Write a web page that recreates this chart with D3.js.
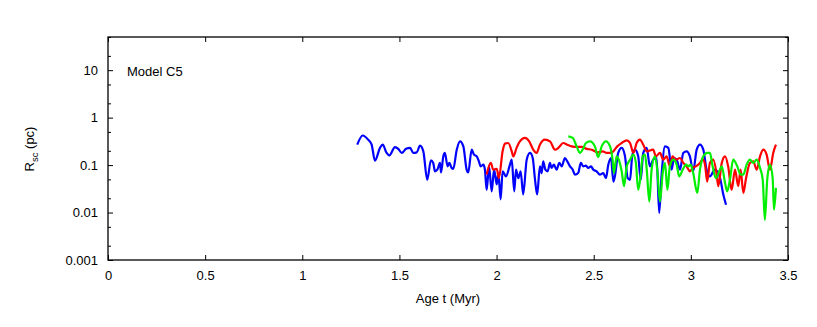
<!DOCTYPE html>
<html><head><meta charset="utf-8">
<script src="https://cdn.jsdelivr.net/npm/d3@7"></script>
<style>body{margin:0;background:#fff}svg{display:block}text{font-family:"Liberation Sans",Arial,sans-serif;fill:#000}</style>
</head><body><svg id="c" width="817" height="327"></svg>
<script>
const xTicks = [0, 0.5, 1, 1.5, 2, 2.5, 3, 3.5];
const xTickLabels = ["0", "0.5", "1", "1.5", "2", "2.5", "3", "3.5"];
const yTicks = [0.001, 0.01, 0.1, 1, 10];
const yTickLabels = ["0.001", "0.01", "0.1", "1", "10"];
const yMinorTicks = [0.002, 0.005, 0.02, 0.05, 0.2, 0.5, 2, 5, 20, 50];

const blueT = [1.283,1.311,1.340,1.357,1.374,1.400,1.414,1.434,1.448,1.477,1.494,1.512,1.534,1.555,1.571,1.589,1.606,1.623,1.643,1.662,1.674,1.683,1.695,1.709,1.714,1.726,1.734,1.748,1.757,1.769,1.777,1.795,1.812,1.829,1.846,1.854,1.872,1.884,1.898,1.909,1.918,1.932,1.940,1.949,1.961,1.975,1.987,2.001,2.009,2.021,2.031,2.048,2.069,2.078,2.091,2.100,2.112,2.124,2.137,2.155,2.172,2.186,2.198,2.209,2.223,2.232,2.240,2.251,2.263,2.275,2.283,2.295,2.309,2.323,2.335,2.352,2.364,2.378,2.392,2.403,2.420,2.434,2.446,2.460,2.472,2.486,2.498,2.515,2.532,2.549,2.563,2.575,2.589,2.601,2.609,2.626,2.644,2.661,2.675,2.687,2.698,2.712,2.729,2.742,2.755,2.773,2.789,2.806,2.824,2.837,2.850,2.867,2.884,2.901,2.913,2.927,2.944,2.961,2.978,2.995,3.012,3.030,3.047,3.064,3.081,3.098,3.124,3.150,3.167,3.181];
const blueR = [0.27,0.42,0.34,0.27,0.124,0.23,0.27,0.18,0.16,0.24,0.22,0.18,0.22,0.23,0.18,0.185,0.257,0.195,0.049,0.126,0.111,0.074,0.080,0.111,0.070,0.153,0.180,0.094,0.111,0.087,0.083,0.211,0.316,0.248,0.080,0.070,0.211,0.166,0.153,0.120,0.094,0.102,0.080,0.030,0.094,0.028,0.080,0.039,0.068,0.019,0.074,0.058,0.102,0.130,0.028,0.080,0.053,0.074,0.024,0.130,0.180,0.141,0.049,0.024,0.094,0.068,0.120,0.080,0.074,0.111,0.087,0.102,0.080,0.111,0.094,0.141,0.120,0.094,0.080,0.063,0.068,0.111,0.094,0.097,0.087,0.094,0.080,0.074,0.063,0.068,0.053,0.102,0.141,0.045,0.058,0.180,0.230,0.153,0.053,0.049,0.153,0.211,0.153,0.049,0.180,0.230,0.094,0.130,0.141,0.0098,0.068,0.248,0.230,0.080,0.141,0.130,0.080,0.180,0.195,0.153,0.074,0.211,0.269,0.211,0.080,0.058,0.080,0.054,0.024,0.0146];

const redT = [1.949,1.970,1.983,2.001,2.012,2.031,2.043,2.060,2.078,2.086,2.103,2.120,2.146,2.168,2.189,2.206,2.223,2.249,2.275,2.301,2.318,2.343,2.364,2.387,2.412,2.438,2.464,2.489,2.506,2.523,2.546,2.567,2.584,2.601,2.621,2.644,2.670,2.687,2.704,2.721,2.738,2.755,2.773,2.806,2.820,2.841,2.858,2.875,2.892,2.906,2.923,2.944,2.961,2.978,2.995,3.009,3.026,3.047,3.061,3.073,3.084,3.098,3.115,3.133,3.141,3.159,3.176,3.192,3.210,3.227,3.244,3.256,3.270,3.284,3.304,3.321,3.339,3.356,3.373,3.390,3.407,3.424,3.438];
const redR = [0.063,0.111,0.080,0.083,0.053,0.195,0.283,0.292,0.195,0.153,0.230,0.316,0.373,0.316,0.211,0.180,0.269,0.343,0.316,0.211,0.230,0.292,0.269,0.248,0.241,0.241,0.219,0.211,0.195,0.185,0.195,0.180,0.180,0.195,0.248,0.292,0.332,0.292,0.180,0.292,0.343,0.269,0.195,0.211,0.153,0.180,0.130,0.153,0.094,0.153,0.130,0.141,0.111,0.094,0.074,0.087,0.094,0.111,0.134,0.102,0.045,0.111,0.130,0.063,0.036,0.111,0.153,0.094,0.030,0.080,0.036,0.080,0.026,0.053,0.111,0.120,0.080,0.153,0.211,0.166,0.080,0.180,0.269];

const greenT = [2.369,2.392,2.412,2.429,2.443,2.460,2.481,2.506,2.523,2.541,2.563,2.584,2.597,2.604,2.618,2.632,2.644,2.656,2.670,2.687,2.704,2.717,2.729,2.742,2.752,2.764,2.773,2.786,2.798,2.815,2.827,2.841,2.855,2.867,2.879,2.892,2.909,2.927,2.940,2.958,2.975,2.987,2.999,3.012,3.033,3.047,3.064,3.084,3.098,3.112,3.129,3.146,3.159,3.176,3.187,3.201,3.218,3.239,3.256,3.270,3.287,3.304,3.321,3.339,3.356,3.370,3.381,3.393,3.407,3.421,3.428,3.438];
const greenR = [0.403,0.373,0.248,0.180,0.211,0.292,0.316,0.248,0.148,0.248,0.316,0.248,0.130,0.068,0.153,0.120,0.074,0.036,0.094,0.130,0.166,0.111,0.030,0.063,0.153,0.166,0.080,0.017,0.080,0.153,0.080,0.017,0.068,0.111,0.030,0.094,0.130,0.102,0.058,0.080,0.102,0.094,0.102,0.068,0.026,0.080,0.153,0.180,0.180,0.094,0.053,0.074,0.094,0.042,0.028,0.049,0.130,0.094,0.063,0.063,0.102,0.130,0.111,0.130,0.087,0.049,0.0070,0.049,0.102,0.053,0.0115,0.033];

const series = [
  {t: blueT, r: blueR, color: "#0000ff"},
  {t: redT, r: redR, color: "#ff0000"},
  {t: greenT, r: greenR, color: "#00ee00"}
];

const svg = d3.select("#c");
const L = 108, R = 788, T = 37, B = 260;
const x = d3.scaleLinear().domain([0, 3.5]).range([L, R]);
const y = d3.scaleLog().domain([0.001, 50]).range([B, T]);

// data lines
svg.append("clipPath").attr("id", "clip").append("rect")
  .attr("x", L).attr("y", T).attr("width", R - L).attr("height", B - T);
const line = d3.line().x(d => x(d[0])).y(d => y(d[1])).curve(d3.curveMonotoneX);
series.forEach(s => {
  const pts = s.t.map((t, i) => [t, s.r[i]]);
  svg.append("path").datum(pts).attr("d", line)
    .attr("fill", "none").attr("stroke", s.color).attr("stroke-width", 2.2)
    .attr("stroke-linejoin", "round").attr("clip-path", "url(#clip)");
});

// axes
const fmtX = (d, i) => xTickLabels[i];
const fmtY = (d, i) => yTickLabels[i];
const gB = svg.append("g").attr("transform", `translate(0,${B})`)
  .call(d3.axisBottom(x).tickValues(xTicks).tickFormat(fmtX).tickSizeInner(-5).tickSizeOuter(0).tickPadding(11));
const gT = svg.append("g").attr("transform", `translate(0,${T})`)
  .call(d3.axisTop(x).tickValues(xTicks).tickFormat("").tickSizeInner(-5).tickSizeOuter(0));
const gL = svg.append("g").attr("transform", `translate(${L},0)`)
  .call(d3.axisLeft(y).tickValues(yTicks).tickFormat(fmtY).tickSizeInner(-5).tickSizeOuter(0).tickPadding(10));
const gLm = svg.append("g").attr("transform", `translate(${L},0)`)
  .call(d3.axisLeft(y).tickValues(yMinorTicks).tickFormat("").tickSizeInner(-3).tickSizeOuter(0));
const gR = svg.append("g").attr("transform", `translate(${R},0)`)
  .call(d3.axisRight(y).tickValues(yTicks).tickFormat("").tickSizeInner(-5).tickSizeOuter(0));
const gRm = svg.append("g").attr("transform", `translate(${R},0)`)
  .call(d3.axisRight(y).tickValues(yMinorTicks).tickFormat("").tickSizeInner(-3).tickSizeOuter(0));
[gB, gT, gL, gLm, gR, gRm].forEach(g => {
  g.select(".domain").remove();
  g.selectAll("line").attr("stroke", "#000").attr("stroke-width", 1);
  g.selectAll("text").attr("font-size", 13).attr("font-family", "Liberation Sans, Arial, sans-serif").attr("fill", "#000");
});

// frame
svg.append("rect").attr("x", L).attr("y", T).attr("width", R - L).attr("height", B - T)
  .attr("fill", "none").attr("stroke", "#000").attr("stroke-width", 1.3);

// labels
svg.append("text").attr("x", (L + R) / 2).attr("y", 303).attr("text-anchor", "middle")
  .attr("font-size", 13).text("Age t (Myr)");
const yl = svg.append("text").attr("transform", "translate(34,149) rotate(-90)")
  .attr("text-anchor", "middle").attr("font-size", 13);
yl.append("tspan").text("R");
yl.append("tspan").attr("font-size", 9.5).attr("dy", 4).text("sc");
yl.append("tspan").attr("dy", -4).text(" (pc)");
svg.append("text").attr("x", 127).attr("y", 76).attr("font-size", 13).text("Model C5");
</script></body></html>
